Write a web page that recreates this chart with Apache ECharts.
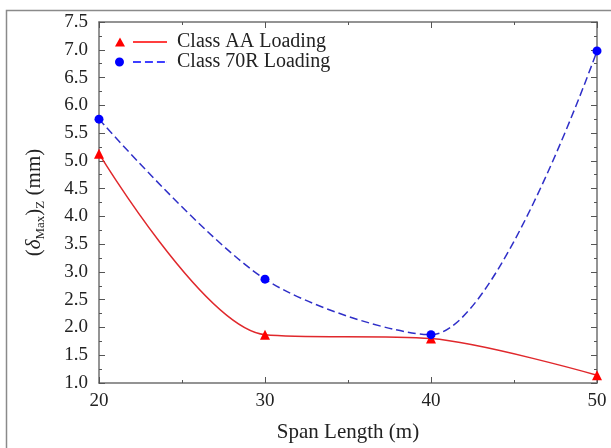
<!DOCTYPE html>
<html>
<head>
<meta charset="utf-8">
<script src="https://cdn.jsdelivr.net/npm/echarts@6/dist/echarts.min.js"></script>
<style>
html,body{margin:0;padding:0;background:#fff;}
#c{width:611px;height:448px;}
</style>
</head>
<body>
<div id="c"></div>
<script>
const spanLengths = [20, 30, 40, 50];
const classAA = [5.13, 1.87, 1.80, 1.14];
const class70R = [5.75, 2.87, 1.87, 6.98];
const seriesNames = ['Class AA Loading', 'Class 70R Loading'];

const FONT = '"Liberation Serif", "DejaVu Serif", serif';
const chart = echarts.init(document.getElementById('c'), null, {renderer: 'canvas'});

function pairs(xs, ys) { return xs.map((x, i) => [x, ys[i]]); }

const axisLineStyle = {color: '#707070', width: 1.5};
const tickStyle = {color: '#555', width: 1};

const iconAA = 'path://M0,10L5,1L10,10Z M18,4.8L52,4.8L52,6.2L18,6.2Z';
const icon70R = 'path://M0,5.5A4.5,4.5 0 1,1 9,5.5A4.5,4.5 0 1,1 0,5.5Z M18,4.8h8v1.4h-8Z M30,4.8h8v1.4h-8Z M42,4.8h8v1.4h-8Z M52,4.8h0.1v1.4h-0.1Z M0,10h0.01v0.01h-0.01Z M0,1h0.01v0.01h-0.01Z';

chart.setOption({
  animation: false,
  backgroundColor: '#fff',
  textStyle: {fontFamily: FONT},
  graphic: [{
    type: 'rect', left: 4, top: 8,
    shape: {width: 640, height: 480},
    style: {fill: 'none', stroke: '#8a8a8a', lineWidth: 1.5},
    silent: true, z: -1
  }],
  grid: {left: 99, right: 14, top: 22, bottom: 53, containLabel: false},
  legend: {
    left: 110, top: 27, orient: 'vertical',
    itemWidth: 52, itemHeight: 10, itemGap: 0,
    textStyle: {fontFamily: FONT, fontSize: 20, color: '#222', lineHeight: 20, padding: [0, 0, 0, 5]},
    data: [{name: seriesNames[0], icon: iconAA}, {name: seriesNames[1], icon: icon70R}]
  },
  xAxis: [{
    type: 'value', min: 20, max: 50, interval: 10,
    name: 'Span Length (m)', nameLocation: 'middle', nameGap: 39,
    nameTextStyle: {fontFamily: FONT, fontSize: 21, color: '#222'},
    axisLine: {lineStyle: axisLineStyle},
    axisTick: {inside: true, length: 6, lineStyle: tickStyle},
    minorTick: {show: true, splitNumber: 2, length: 3, lineStyle: tickStyle},
    axisLabel: {fontFamily: FONT, fontSize: 19, color: '#222', margin: 9},
    splitLine: {show: false}
  }, {
    type: 'value', min: 20, max: 50, interval: 10, position: 'top',
    axisLine: {show: true, lineStyle: axisLineStyle},
    axisTick: {inside: true, length: 6, lineStyle: tickStyle},
    minorTick: {show: true, splitNumber: 2, length: 3, lineStyle: tickStyle},
    axisLabel: {show: false}, splitLine: {show: false}
  }],
  yAxis: [{
    type: 'value', min: 1.0, max: 7.5, interval: 0.5,
    name: '{p|(}{d|δ}{s|Max}{p|)}{z|Z}{p| (mm)}',
    nameLocation: 'middle', nameGap: 52, nameRotate: 90,
    nameTextStyle: {
      fontFamily: FONT, fontSize: 21, color: '#222',
      rich: {
        p: {fontFamily: FONT, fontSize: 21, color: '#222'},
        d: {fontFamily: FONT, fontSize: 21, fontStyle: 'italic', color: '#222'},
        s: {fontFamily: FONT, fontSize: 13, color: '#222', verticalAlign: 'bottom', padding: [9, 0, 0, 0]},
        z: {fontFamily: FONT, fontSize: 13, color: '#222', verticalAlign: 'bottom', padding: [12, 0, 0, 0]}
      }
    },
    axisLine: {show: true, lineStyle: axisLineStyle},
    axisTick: {inside: true, length: 6, lineStyle: tickStyle},
    minorTick: {show: true, splitNumber: 2, length: 3, lineStyle: tickStyle},
    axisLabel: {fontFamily: FONT, fontSize: 19, color: '#222', margin: 11,
      formatter: v => v.toFixed(1)},
    splitLine: {show: false}
  }, {
    type: 'value', min: 1.0, max: 7.5, interval: 0.5, position: 'right',
    axisLine: {show: true, lineStyle: axisLineStyle},
    axisTick: {inside: true, length: 6, lineStyle: tickStyle},
    minorTick: {show: true, splitNumber: 2, length: 3, lineStyle: tickStyle},
    axisLabel: {show: false}, splitLine: {show: false}
  }],
  series: [{
    name: seriesNames[0], type: 'line', smooth: 0.3,
    data: pairs(spanLengths, classAA),
    symbol: 'triangle', symbolSize: 10,
    itemStyle: {color: '#ff0000'},
    lineStyle: {color: '#e0282c', width: 1.5, type: 'solid'},
    z: 3
  }, {
    name: seriesNames[1], type: 'line', smooth: 0.3,
    data: pairs(spanLengths, class70R),
    symbol: 'circle', symbolSize: 9,
    itemStyle: {color: '#0000ff'},
    lineStyle: {color: '#2f2fc8', width: 1.5, type: [8, 4]},
    z: 4
  }]
});
</script>
</body>
</html>
